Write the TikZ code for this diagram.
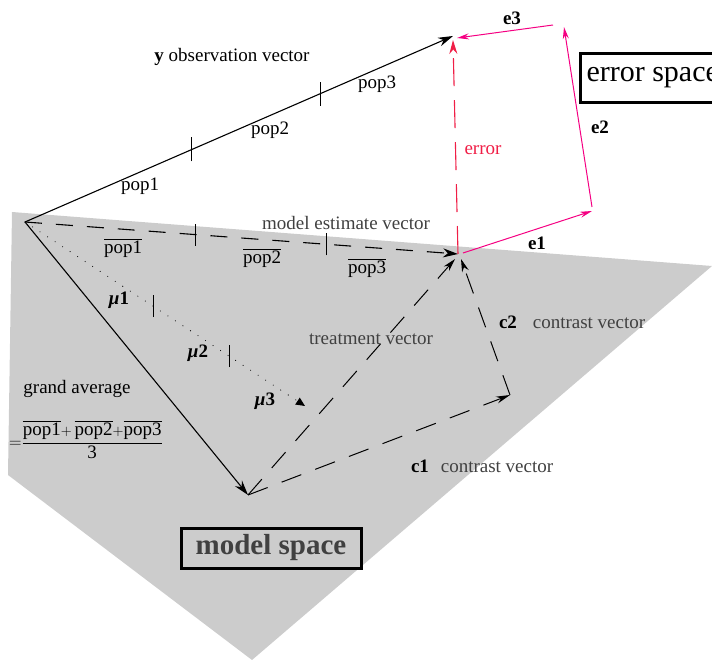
\documentclass[tikz,border=0pt]{standalone}
\usepackage{fontspec}
\setmainfont{Liberation Serif}
\usetikzlibrary{arrows.meta, calc}
\definecolor{errred}{RGB}{240,30,70}
\definecolor{errmag}{RGB}{245,0,130}

\begin{document}
\begin{tikzpicture}[
    x=1pt, y=-1pt,
    >=Stealth,
    every node/.style={font=\fontsize{19}{22}\selectfont},
    vec/.style={->, line width=1.1pt, >={Stealth[length=15pt,width=9pt]}},
    dvec/.style={vec, dash pattern=on 17pt off 14pt},
    evec/.style={->, errmag, line width=1pt, >={Stealth[length=12pt,width=6pt]}},
    tick/.style={line width=0.9pt},
    glabel/.style={text=black!75},
    blabel/.style={font=\fontsize{19}{22}\selectfont\bfseries},
    spacebox/.style={draw, line width=3pt, inner xsep=6pt}
  ]
  \useasboundingbox (0,0) rectangle (712,660);

  % Model space plane
  \fill[black!20] (12,212) -- (712,266) -- (252,660) -- (8,475) -- cycle;

  % Vector ends
  \coordinate (O) at (25,222);
  \coordinate (Y) at (453,36);
  \coordinate (M) at (458,254);
  \coordinate (Mu) at (305,406);
  \coordinate (G) at (248,495);
  \coordinate (C1) at (510,395);
  \coordinate (T) at (455,259);
  \coordinate (C2) at (461,259);
  \coordinate (Etop) at (453,40);
  \coordinate (E1s) at (463,253);
  \coordinate (E1) at (592,211);
  \coordinate (E2s) at (592,207);
  \coordinate (E2) at (564,27);
  \coordinate (E3s) at (553,25);
  \coordinate (E3) at (457,38);

  % Observation vector
  \draw[vec] (O) -- (Y);
  \path (O) -- (Y) coordinate[pos=0.39] (y1) coordinate[pos=0.69] (y2);
  \draw[tick] ([yshift=-12pt]y1) -- ([yshift=12pt]y1);
  \draw[tick] ([yshift=-12pt]y2) -- ([yshift=12pt]y2);

  % Model estimate vector
  \draw[dvec] (O) -- (M);
  \path (O) -- (M) coordinate[pos=0.393] (m1) coordinate[pos=0.697] (m2);
  \draw[tick] ([yshift=-11pt]m1) -- ([yshift=11pt]m1);
  \draw[tick] ([yshift=-11pt]m2) -- ([yshift=11pt]m2);

  % Means
  \draw[->, line width=1.1pt, line cap=round, dash pattern=on 0pt off 9pt,
        >={Triangle[length=9pt,width=8pt]}] (O) -- (Mu);
  \path (O) -- (Mu) coordinate[pos=0.457] (u1) coordinate[pos=0.729] (u2);
  \draw[tick] ([yshift=-11pt]u1) -- ([yshift=11pt]u1);
  \draw[tick] ([yshift=-11pt]u2) -- ([yshift=11pt]u2);

  % Grand average, treatment and contrasts
  \draw[vec] (O) -- (G);
  \draw[->, line width=1pt, dash pattern=on 21pt off 15pt,
        >={Stealth[length=13pt,width=7pt]}] (G) -- (T);
  \draw[->, line width=1pt, dash pattern=on 21pt off 15pt,
        >={Stealth[length=14pt,width=7pt]}] (G) -- (C1);
  \draw[->, line width=1pt, dash pattern=on 21pt off 15pt,
        >={Stealth[length=13pt,width=7pt]}] (C1) -- (C2);

  % Error
  \draw[->, errred, line width=1.1pt, dash pattern=on 28pt off 14pt,
        >={Stealth[length=14pt,width=8pt]}] (M) -- (Etop);
  \draw[evec] (E1s) -- (E1);
  \draw[evec] (E2s) -- (E2);
  \draw[evec] (E3s) -- (E3);

  % Labels
  \node (ylab) at (232,57) {\textbf{y} observation vector};
  \node (p1) at (140,186) {pop1};
  \node (p2) at (270,130) {pop2};
  \node (p3) at (377,84) {pop3};
  \node[glabel] (mlab) at (346,223) {model estimate vector};
  \node (q1) at (123,248) {$\overline{\hbox{pop1}}$};
  \node (q2) at (262,258) {$\overline{\hbox{pop2}}$};
  \node (q3) at (367,268) {$\overline{\hbox{pop3}}$};
  \node[text=errred] (elab) at (483,150) {error};
  \node[blabel] (e1) at (537,243) {e1};
  \node[blabel] (e2) at (600,127) {e2};
  \node[blabel] (e3) at (512,18) {e3};
  \node[spacebox, anchor=west, minimum height=49pt,
        font=\fontsize{30}{32}\selectfont] (es) at (579,78) {error space};

  \node (mu1) at (119,300) {{\bfseries\itshape μ}\textbf{1}};
  \node (mu2) at (198,353) {{\bfseries\itshape μ}\textbf{2}};
  \node (mu3) at (265,401) {{\bfseries\itshape μ}\textbf{3}};
  \node[glabel] (tlab) at (371,339) {treatment vector};
  \node[blabel] (c2) at (508,322) {c2};
  \node[glabel] (c2lab) at (589,323) {contrast vector};
  \node[blabel] (c1) at (420,466) {c1};
  \node[glabel] (c1lab) at (497,467) {contrast vector};

  % Grand average
  \node (ga) at (77,389) {grand average};
  \node (frac) at (86,440) {${=}\displaystyle\frac{\overline{\hbox{pop1}}{\scriptstyle+}\,
      \overline{\hbox{pop2}}{\scriptstyle+}\overline{\hbox{pop3}}}{\hbox{3}}$};

  \node[spacebox, text=black!75, minimum width=180pt, minimum height=40pt,
        font=\fontsize{29}{31}\selectfont\bfseries] (ms) at (271,548) {model space};
\end{tikzpicture}
\end{document}
